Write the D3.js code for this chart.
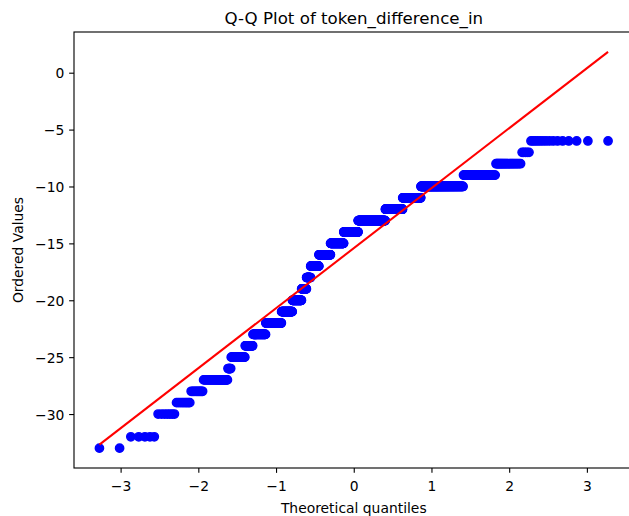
<!DOCTYPE html>
<html>
<head>
<meta charset="utf-8">
<script src="https://cdn.jsdelivr.net/npm/d3@7"></script>
<style>
  html, body { margin: 0; padding: 0; background: #fff; }
  svg { display: block; }
  text { font-family: "DejaVu Sans", sans-serif; fill: #000; }
</style>
</head>
<body>
<svg id="chart" width="629" height="516"></svg>
<script>
// ---- data ----
const chartTitle = "Q-Q Plot of token_difference_in";
const xLabel = "Theoretical quantiles";
const yLabel = "Ordered Values";
// distinct ordered values and how many observations take each value
const values = [-33, -32, -30, -29, -28, -27, -26, -25, -24, -23, -22, -21, -20, -19, -18, -17, -16, -15, -14, -13, -12, -11, -10, -9, -8, -7, -6];
const counts = [2, 5, 7, 9, 11, 34, 6, 31, 21, 41, 62, 50, 47, 27, 23, 49, 72, 86, 96, 176, 101, 92, 149, 59, 24, 5, 15];
const xTicks = [-3, -2, -1, 0, 1, 2, 3];
const yTicks = [-30, -25, -20, -15, -10, -5, 0];

// ---- probability-plot transform (as scipy.stats.probplot) ----
function normPPF(p) {
  const a = [-3.969683028665376e+01, 2.209460984245205e+02, -2.759285104469687e+02, 1.383577518672690e+02, -3.066479806614716e+01, 2.506628277459239e+00];
  const b = [-5.447609879822406e+01, 1.615858368580409e+02, -1.556989798598866e+02, 6.680131188771972e+01, -1.328068155288572e+01];
  const c = [-7.784894002430293e-03, -3.223964580411365e-01, -2.400758277161838e+00, -2.549732539343734e+00, 4.374664141464968e+00, 2.938163982698783e+00];
  const d = [7.784695709041462e-03, 3.224671290700398e-01, 2.445134137142996e+00, 3.754408661907416e+00];
  const pl = 0.02425, ph = 1 - pl;
  let q, r;
  if (p < pl) {
    q = Math.sqrt(-2 * Math.log(p));
    return (((((c[0]*q+c[1])*q+c[2])*q+c[3])*q+c[4])*q+c[5]) / ((((d[0]*q+d[1])*q+d[2])*q+d[3])*q+1);
  } else if (p <= ph) {
    q = p - 0.5; r = q * q;
    return (((((a[0]*r+a[1])*r+a[2])*r+a[3])*r+a[4])*r+a[5])*q / (((((b[0]*r+b[1])*r+b[2])*r+b[3])*r+b[4])*r+1);
  } else {
    q = Math.sqrt(-2 * Math.log(1 - p));
    return -(((((c[0]*q+c[1])*q+c[2])*q+c[3])*q+c[4])*q+c[5]) / ((((d[0]*q+d[1])*q+d[2])*q+d[3])*q+1);
  }
}

const osr = [];
values.forEach((v, i) => { for (let k = 0; k < counts[i]; k++) osr.push(v); });
const n = osr.length;
const med = new Array(n);
med[n - 1] = Math.pow(0.5, 1 / n);
med[0] = 1 - med[n - 1];
for (let i = 2; i < n; i++) med[i - 1] = (i - 0.3175) / (n + 0.365);
const osm = med.map(normPPF);
const pts = osm.map((q, i) => ({ q: q, v: osr[i] }));

const mx = d3.mean(osm), my = d3.mean(osr);
let sxy = 0, sxx = 0;
for (let i = 0; i < n; i++) { sxy += (osm[i] - mx) * (osr[i] - my); sxx += (osm[i] - mx) ** 2; }
const slope = sxy / sxx, intercept = my - slope * mx;
const qMin = d3.min(osm), qMax = d3.max(osm);
const fitLine = [{ q: qMin, v: slope * qMin + intercept }, { q: qMax, v: slope * qMax + intercept }];

// ---- layout ----
const svg = d3.select("#chart");
const L = 74, T = 32, R = 633.5, B = 468;

const xr = [qMin, qMax], xp = 0.05 * (xr[1] - xr[0]);
const yLo = Math.min(d3.min(osr), fitLine[0].v, fitLine[1].v);
const yHi = Math.max(d3.max(osr), fitLine[0].v, fitLine[1].v);
const yp = 0.05 * (yHi - yLo);

const x = d3.scaleLinear().domain([xr[0] - xp, xr[1] + xp]).range([L, R]);
const y = d3.scaleLinear().domain([yLo - yp, yHi + yp]).range([B, T]);

// points
svg.append("g").selectAll("circle").data(pts).join("circle")
  .attr("cx", d => x(d.q)).attr("cy", d => y(d.v))
  .attr("r", 4.17)
  .attr("fill", "#0000ff").attr("stroke", "#0000ff").attr("stroke-width", 1.39);

// fit line
svg.append("path").datum(fitLine)
  .attr("d", d3.line().x(d => x(d.q)).y(d => y(d.v)))
  .attr("fill", "none").attr("stroke", "#ff0000").attr("stroke-width", 2.08);

// axes
const fmt = d => d < 0 ? "\u2212" + Math.abs(d) : String(d);
const xAxis = svg.append("g").attr("transform", `translate(0,${B})`)
  .call(d3.axisBottom(x).tickValues(xTicks).tickFormat(fmt).tickSizeInner(4.86).tickSizeOuter(0).tickPadding(4.86));
const yAxis = svg.append("g").attr("transform", `translate(${L},0)`)
  .call(d3.axisLeft(y).tickValues(yTicks).tickFormat(fmt).tickSizeInner(4.86).tickSizeOuter(0).tickPadding(4.86));
[xAxis, yAxis].forEach(g => {
  g.select(".domain").remove();
  g.selectAll(".tick line").attr("stroke", "#000").attr("stroke-width", 1.11);
  g.selectAll(".tick text").style("font-family", "'DejaVu Sans', sans-serif").style("font-size", "13.89px").attr("fill", "#000");
});
xAxis.selectAll(".tick text").attr("dy", null).attr("y", 22.6);
yAxis.selectAll(".tick text").attr("dy", "0.36em");

// spines
svg.append("rect").attr("x", L).attr("y", T).attr("width", R - L).attr("height", B - T)
  .attr("fill", "none").attr("stroke", "#000").attr("stroke-width", 1.11);

// labels
svg.append("text").attr("x", (L + R) / 2).attr("y", 23.5).attr("text-anchor", "middle")
  .style("font-size", "16.67px").text(chartTitle);
svg.append("text").attr("x", (L + R) / 2).attr("y", 512.5).attr("text-anchor", "middle")
  .style("font-size", "13.89px").text(xLabel);
svg.append("text").attr("transform", `translate(23,${(T + B) / 2}) rotate(-90)`).attr("text-anchor", "middle")
  .style("font-size", "13.89px").text(yLabel);
</script>
</body>
</html>
